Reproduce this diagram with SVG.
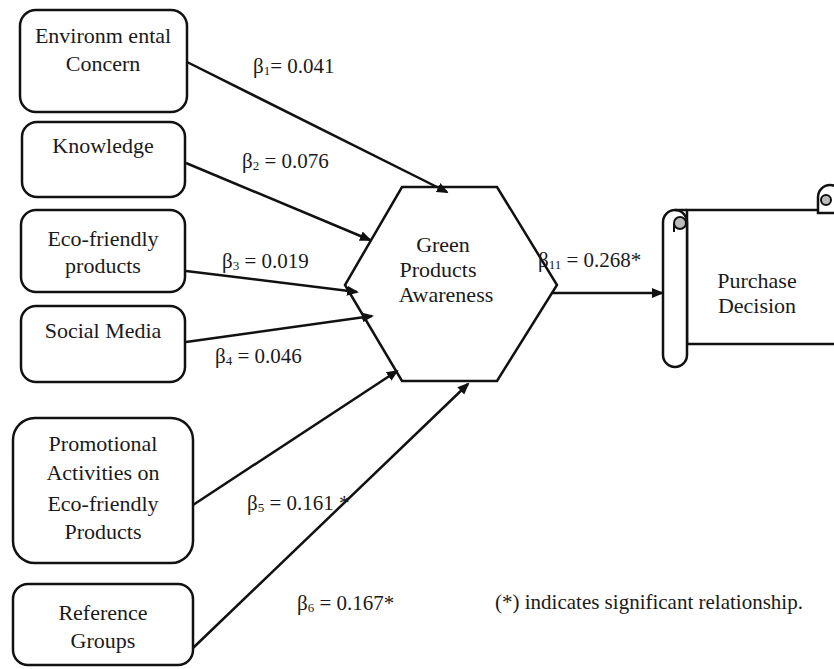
<svg xmlns="http://www.w3.org/2000/svg" width="834" height="669" viewBox="0 0 834 669">
<style>
  .box { fill: #fff; stroke: #111; stroke-width: 2.5; }
  .shape { fill: #fff; stroke: #111; stroke-width: 2.5; stroke-linejoin: miter; }
  text { font-family: "Liberation Serif", "Times New Roman", "DejaVu Serif", serif; fill: #1a1a1a; }
  .t { font-size: 22px; text-anchor: middle; }
  .lbl { font-size: 21px; }
  .sub { font-size: 13px; }
  .conn line { stroke: #111; stroke-width: 2.5; marker-end: url(#arr); }
</style>
<defs>
  <marker id="arr" markerWidth="12" markerHeight="10" refX="10" refY="5" orient="auto" markerUnits="userSpaceOnUse">
    <path d="M0,0 L12,5 L0,10 Z" fill="#111"/>
  </marker>
</defs>
<rect width="834" height="669" fill="#fff"/>

<g id="env">
  <rect class="box" x="20" y="10" width="167" height="102" rx="16"/>
  <text class="t" x="103" y="43">Environm ental</text>
  <text class="t" x="103" y="71">Concern</text>
</g>
<g id="knowledge">
  <rect class="box" x="22" y="122" width="163" height="75" rx="15"/>
  <text class="t" x="103" y="153">Knowledge</text>
</g>
<g id="eco">
  <rect class="box" x="21" y="210" width="164" height="82" rx="15"/>
  <text class="t" x="103" y="246">Eco-friendly</text>
  <text class="t" x="103" y="273">products</text>
</g>
<g id="social">
  <rect class="box" x="21" y="306" width="164" height="76" rx="15"/>
  <text class="t" x="103" y="338">Social Media</text>
</g>
<g id="promo">
  <rect class="box" x="13" y="418" width="180" height="145" rx="22"/>
  <text class="t" x="103" y="451">Promotional</text>
  <text class="t" x="103" y="480">Activities on</text>
  <text class="t" x="103" y="511">Eco-friendly</text>
  <text class="t" x="103" y="539">Products</text>
</g>
<g id="reference">
  <rect class="box" x="13" y="584" width="180" height="81" rx="15"/>
  <text class="t" x="103" y="620">Reference</text>
  <text class="t" x="103" y="648">Groups</text>
</g>

<g id="awareness">
  <polygon class="shape" points="402,187 497,187 557,285 497,381 402,381 345,285"/>
  <text class="t" x="443" y="252">Green</text>
  <text class="t" x="438" y="277">Products</text>
  <text class="t" x="446" y="302">Awareness</text>
</g>

<g id="purchase">
  <rect class="shape" x="687" y="210" width="170" height="134"/>
  <path class="shape" d="M818,210 L818,197 A12,12 0 0 1 842,197 L842,213 L818,213 Z"/>
  <circle cx="826" cy="200" r="5" fill="#bbb" stroke="#111" stroke-width="2"/>
  <path class="shape" d="M663,222 A12,12 0 0 1 687,222 L687,355 A12,12 0 0 1 663,355 Z"/>
  <line x1="675" y1="210" x2="687" y2="210" stroke="#111" stroke-width="2.5"/>
  <circle cx="680" cy="223" r="6" fill="#bbb" stroke="#111" stroke-width="2"/>
  <line x1="674" y1="223" x2="674" y2="232" stroke="#111" stroke-width="2"/>
  <text class="t" x="757" y="288">Purchase</text>
  <text class="t" x="757" y="313">Decision</text>
</g>

<g class="conn" id="connectors">
  <line x1="187" y1="62" x2="447" y2="192"/>
  <line x1="186" y1="163" x2="370" y2="240"/>
  <line x1="186" y1="271" x2="357" y2="292"/>
  <line x1="186" y1="342" x2="372" y2="316"/>
  <line x1="193" y1="505" x2="397" y2="371"/>
  <line x1="193" y1="648" x2="468" y2="384"/>
  <line x1="552" y1="293" x2="662" y2="293"/>
</g>

<g id="labels">
  <text class="lbl" x="253" y="73">β<tspan class="sub" dy="2">1</tspan><tspan dy="-2">= 0.041</tspan></text>
  <text class="lbl" x="242" y="168">β<tspan class="sub" dy="2">2</tspan><tspan dy="-2"> = 0.076</tspan></text>
  <text class="lbl" x="222" y="268">β<tspan class="sub" dy="2">3</tspan><tspan dy="-2"> = 0.019</tspan></text>
  <text class="lbl" x="215" y="363">β<tspan class="sub" dy="2">4</tspan><tspan dy="-2"> = 0.046</tspan></text>
  <text class="lbl" x="247" y="510">β<tspan class="sub" dy="2">5</tspan><tspan dy="-2"> = 0.161 *</tspan></text>
  <text class="lbl" x="297" y="610">β<tspan class="sub" dy="2">6</tspan><tspan dy="-2"> = 0.167*</tspan></text>
  <text class="lbl" x="538" y="267">β<tspan class="sub" dy="2">11</tspan><tspan dy="-2"> = 0.268*</tspan></text>
  <text class="lbl" x="495" y="609">(*) indicates significant relationship.</text>
</g>
</svg>
